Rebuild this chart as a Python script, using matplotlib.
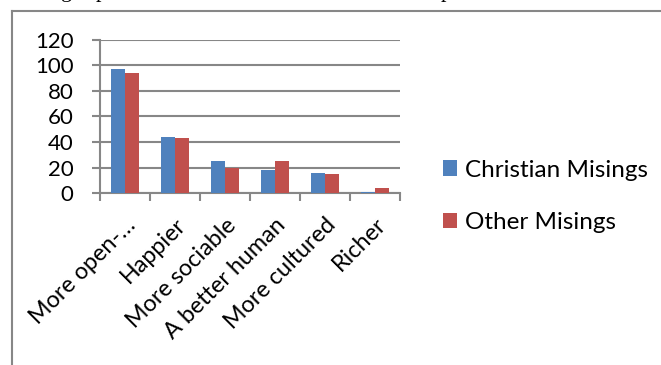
import numpy as np
import matplotlib
matplotlib.use("Agg")
import matplotlib.pyplot as plt
from matplotlib.lines import Line2D

categories = ["More open-…", "Happier", "More sociable", "A better human",
              "More cultured", "Richer"]
christian = [97, 44, 25, 18, 16, 1]
other = [94, 43, 20, 25, 15, 4]
series_names = ["Christian Misings", "Other Misings"]
yticks = [0, 20, 40, 60, 80, 100, 120]

blue = "#4F81BD"
red = "#C0504D"
grey = "#878787"

plt.rcParams["font.family"] = ["Lato", "DejaVu Sans"]

W, H = 661, 365
fig = plt.figure(figsize=(W / 100, H / 100), dpi=100)

# page frame that holds the chart (cut off at right and bottom)
fig.add_artist(Line2D([12 / W, 1], [1 - 11 / H, 1 - 11 / H], color=grey, lw=1.5,
                      transform=fig.transFigure))
fig.add_artist(Line2D([12 / W, 12 / W], [1 - 11 / H, 0], color=grey, lw=1.5,
                      transform=fig.transFigure))

# fragments of the caption line above, mostly cut off
for xp, s in [(61, "g"), (96, "p"), (441, "p")]:
    fig.text(xp / W, 1 + 3 / H, s, family="Liberation Serif", fontsize=16,
             va="baseline", ha="left")

ax = fig.add_axes([100 / W, 1 - 193.3 / H, 300 / W, (193.3 - 39.5) / H])

x = np.arange(len(categories))
bw = 0.28
ax.bar(x - bw / 2, christian, bw, color=blue, label=series_names[0], zorder=3)
ax.bar(x + bw / 2, other, bw, color=red, label=series_names[1], zorder=3)

ax.set_xlim(-0.5, len(categories) - 0.5)
ax.set_ylim(0, 120)
ax.set_yticks(yticks)
ax.yaxis.grid(True, color=grey, lw=1.5, zorder=0)
ax.tick_params(axis="y", length=6, width=1.5, color=grey, pad=13, labelsize=16)

ax.set_xticks(np.arange(len(categories) + 1) - 0.5)
ax.set_xticks(x, minor=True)
ax.set_xticklabels([])
ax.set_xticklabels(categories, minor=True, rotation=45, ha="right", va="top",
                   rotation_mode="anchor")
ax.tick_params(axis="x", which="major", length=6, width=1.5, color=grey)
ax.tick_params(axis="x", which="minor", length=0, pad=15, labelsize=16.8)

for side in ["top", "right"]:
    ax.spines[side].set_visible(False)
for side in ["left", "bottom"]:
    ax.spines[side].set_color(grey)
    ax.spines[side].set_linewidth(1.5)

ax.legend(loc="center left", bbox_to_anchor=(1.07, -0.02), frameon=False,
          fontsize=17.5, handlelength=0.6, handleheight=0.6, handletextpad=0.3,
          labelspacing=1.3)

fig.savefig("out.png", dpi=100)
